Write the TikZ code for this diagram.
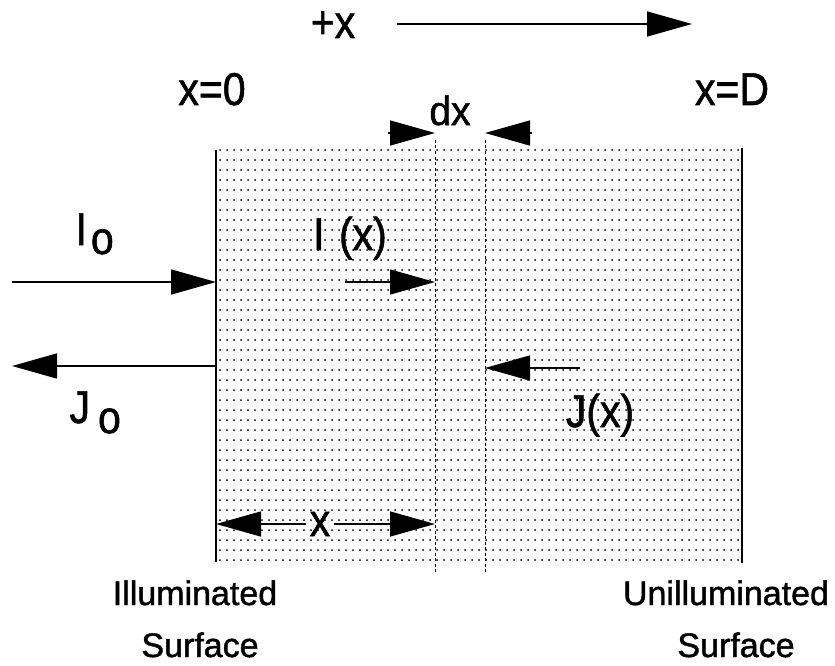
\documentclass[tikz,border=0pt]{standalone}
\usepackage{fontspec,graphicx}
\setmainfont{Liberation Sans}[RawFeature={embolden=1.3}]
\usetikzlibrary{arrows.meta,positioning,calc}

\begin{document}
\begin{tikzpicture}[x=1pt,y=-1pt,>={Triangle[length=45pt,width=25pt]},
  lbl/.style={font=\fontsize{41}{46}\selectfont,anchor=base,yscale=1.12},
  small/.style={font=\fontsize{39}{44}\selectfont,anchor=base,yscale=1.05},
  surf/.style={font=\fontsize{34}{40}\selectfont,anchor=base},
  ray/.style={->,line width=1.5pt},
  cut/.style={line width=1pt,dash pattern=on 3pt off 2.5pt}]
\useasboundingbox (0,0) rectangle (835,666);
% dotted slab
\foreach \y in {150,160,...,565}{\foreach \x in {220,227,...,738}{\fill (\x,\y) circle (1pt);}}
\coordinate (lt) at (216,150); \coordinate (lb) at (216,562);
\coordinate (rt) at (742,148); \coordinate (rb) at (742,563);
\draw[line width=2.2pt] (lt)--(lb);
\draw[line width=2.2pt] (rt)--(rb);
% slice dx
\coordinate (at) at (435,140); \coordinate (ab) at (435,572);
\coordinate (bt) at (485,140); \coordinate (bb) at (485,572);
\draw[cut] (at)--(ab);
\draw[cut] (bt)--(bb);
% labels
\node[lbl] (plusx) at (333,38) {+x};
\node[lbl] (x0) at (212,105) {x=0};
\node[lbl] (xD) at (732,105) {x=D};
\node[small] (dx) at (450,125) {dx};
\node[lbl,anchor=base west] (Io) at (72,245) {I\kern4pt\raisebox{-8pt}{o}};
\node[lbl,anchor=base west] (Jo) at (66,423) {J\kern8pt\raisebox{-9pt}{o}};
\node[lbl] (Ix) at (350,250) {I\kern3pt\ (x)};
\node[lbl] (Jx) at (600,427) {J(x)};
\node[lbl,anchor=center,inner sep=4pt] (xlen) at (320,524) {x};
\node[surf] (ill) at (195,605) {Illuminated};
\node[surf] (ills) at (200,657) {Surface};
\node[surf] (unill) at (726,605) {Unilluminated};
\node[surf] (unills) at (736,657) {Surface};
% arrows
\coordinate (px0) at (397,24); \coordinate (px1) at (692,24);
\draw[ray] (px0)--(px1);
\draw[ray] (388,133) coordinate (dl)--(at|-dl);
\draw[ray] (532,133) coordinate (dr)--(bt|-dr);
\coordinate (in0) at (12,282); \coordinate (out0) at (12,366);
\draw[ray] (in0)--(lt|-in0);
\draw[ray] (lt|-out0)--(out0);
\draw[ray] (345,282) coordinate (ix)--(at|-ix);
\draw[ray] (580,368) coordinate (jx)--(bt|-jx);
\draw[ray] (xlen.west)--(lt|-xlen);
\draw[ray] (xlen.east)--(at|-xlen);
\end{tikzpicture}
\end{document}
